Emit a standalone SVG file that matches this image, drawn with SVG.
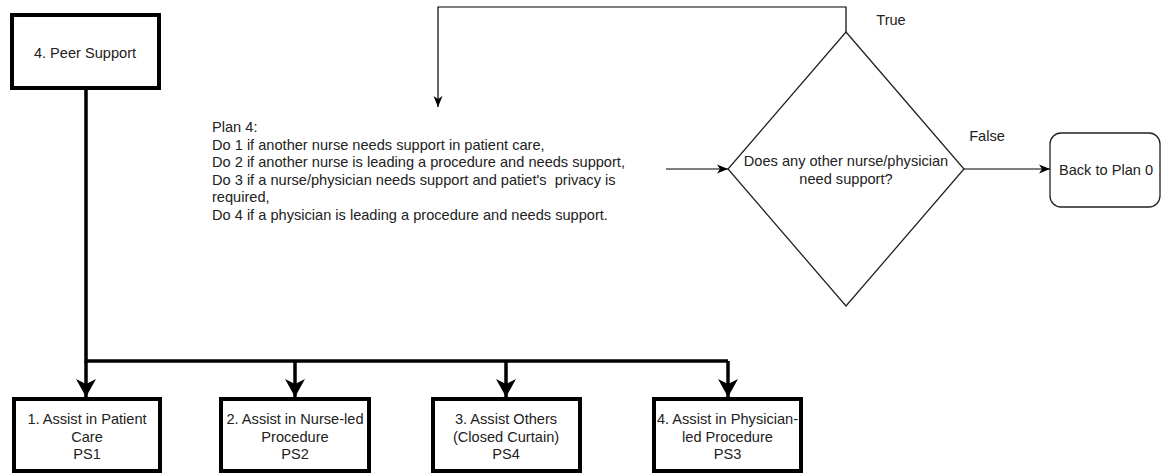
<svg xmlns="http://www.w3.org/2000/svg" width="1162" height="473" viewBox="0 0 1162 473">
  <style>
    text { font-family: "Liberation Sans", Arial, sans-serif; font-size: 14.6px; fill: #222; }
    .c { text-anchor: middle; }
    .box { fill: #fff; stroke: #000; stroke-width: 4; }
    .thick { fill: none; stroke: #000; stroke-width: 3.5; }
    .thin { fill: none; stroke: #000; stroke-width: 1.2; }
    .shape { fill: #fff; stroke: #222; stroke-width: 1.3; }
  </style>
  <defs>
    <marker id="bigArrow" viewBox="0 0 20 22" refX="18" refY="11" markerUnits="userSpaceOnUse" markerWidth="20" markerHeight="22" orient="auto">
      <path d="M0,1 L18,11 L0,21 L5,11 Z" fill="#000"/>
    </marker>
    <marker id="smallArrow" viewBox="0 0 12 12" refX="11" refY="6" markerUnits="userSpaceOnUse" markerWidth="12" markerHeight="12" orient="auto">
      <path d="M0,1.5 L11,6 L0,10.5 L3,6 Z" fill="#000"/>
    </marker>
  </defs>

  <!-- connectors -->
  <g id="connectors">
    <path class="thick" d="M86,89 V361 H728"/>
    <path class="thick" d="M86,361 V397" marker-end="url(#bigArrow)"/>
    <path class="thick" d="M295,361 V397" marker-end="url(#bigArrow)"/>
    <path class="thick" d="M506,361 V397" marker-end="url(#bigArrow)"/>
    <path class="thick" d="M728,361 V397" marker-end="url(#bigArrow)"/>
    <path class="thin" d="M846,32 V7 H438 V107" marker-end="url(#smallArrow)"/>
    <path class="thin" d="M666,169 H728" marker-end="url(#smallArrow)"/>
    <path class="thin" d="M964,169 H1050" marker-end="url(#smallArrow)"/>
    <text x="891" y="25" class="c">True</text>
    <text x="987" y="141" class="c">False</text>
  </g>

  <g id="peer-support">
    <rect class="box" x="12" y="15" width="147" height="73"/>
    <text x="85" y="58" class="c">4. Peer Support</text>
  </g>

  <g id="plan-4">
    <text x="212" y="132">Plan 4:</text>
    <text x="212" y="149.5">Do 1 if another nurse needs support in patient care,</text>
    <text x="212" y="167">Do 2 if another nurse is leading a procedure and needs support,</text>
    <text x="212" y="184.5">Do 3 if a nurse/physician needs support and patiet's&#160; privacy is</text>
    <text x="212" y="202">required,</text>
    <text x="212" y="219.5">Do 4 if a physician is leading a procedure and needs support.</text>
  </g>

  <g id="decision">
    <polygon class="shape" points="846,32 964,169 846,306 728,169"/>
    <text x="846" y="166" class="c">Does any other nurse/physician</text>
    <text x="846" y="184" class="c">need support?</text>
  </g>

  <g id="back-to-plan-0">
    <rect class="shape" x="1050" y="133" width="110" height="74" rx="11" ry="11"/>
    <text x="1106" y="175" class="c">Back to Plan 0</text>
  </g>

  <g id="ps1">
    <rect class="box" x="14" y="399" width="146" height="72"/>
    <text x="87" y="424" class="c">1. Assist in Patient</text>
    <text x="87" y="441.5" class="c">Care</text>
    <text x="87" y="459" class="c">PS1</text>
  </g>

  <g id="ps2">
    <rect class="box" x="221" y="399" width="148" height="72"/>
    <text x="295" y="424" class="c">2. Assist in Nurse-led</text>
    <text x="295" y="441.5" class="c">Procedure</text>
    <text x="295" y="459" class="c">PS2</text>
  </g>

  <g id="ps4">
    <rect class="box" x="433" y="399" width="147" height="72"/>
    <text x="506" y="424" class="c">3. Assist Others</text>
    <text x="506" y="441.5" class="c">(Closed Curtain)</text>
    <text x="506" y="459" class="c">PS4</text>
  </g>

  <g id="ps3">
    <rect class="box" x="654" y="399" width="147" height="72"/>
    <text x="727.5" y="424" class="c">4. Assist in Physician-</text>
    <text x="727.5" y="441.5" class="c">led Procedure</text>
    <text x="727.5" y="459" class="c">PS3</text>
  </g>
</svg>
